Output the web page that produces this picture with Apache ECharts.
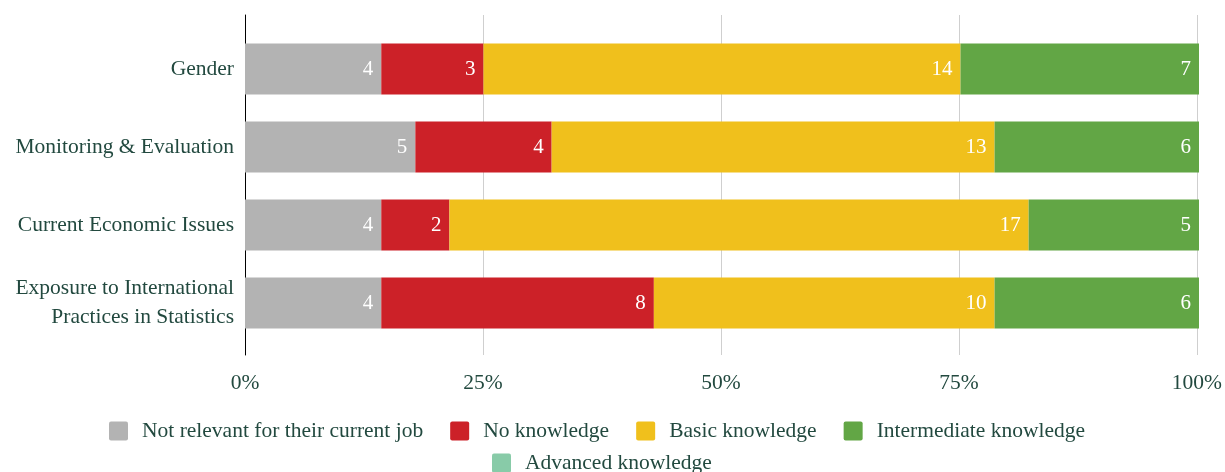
<!DOCTYPE html>
<html>
<head>
<meta charset="utf-8">
<script src="https://cdn.jsdelivr.net/npm/echarts@6/dist/echarts.min.js"></script>
<style>
  html, body { margin: 0; padding: 0; background: #ffffff; }
  #chart { width: 1225px; height: 472px; }
</style>
</head>
<body>
<div id="chart"></div>
<script>
// Skill areas (top to bottom)
const categories = [
  'Gender',
  'Monitoring & Evaluation',
  'Current Economic Issues',
  'Exposure to International\nPractices in Statistics'
];

// Number of respondents per knowledge level
const notRelevant  = [4, 5, 4, 4];
const noKnowledge  = [3, 4, 2, 8];
const basic        = [14, 13, 17, 10];
const intermediate = [7, 6, 5, 6];
const advanced     = [0, 0, 0, 0];

const tickLabels = ['0%', '25%', '50%', '75%', '100%'];

const seriesDefs = [
  { name: 'Not relevant for their current job', values: notRelevant,  color: '#b3b3b3' },
  { name: 'No knowledge',                       values: noKnowledge,  color: '#cc2128' },
  { name: 'Basic knowledge',                    values: basic,        color: '#f0c01c' },
  { name: 'Intermediate knowledge',             values: intermediate, color: '#62a645' },
  { name: 'Advanced knowledge',                 values: advanced,     color: '#88cba8' }
];

const totals = categories.map((_, i) =>
  seriesDefs.reduce((s, d) => s + d.values[i], 0));

const FONT = "'Liberation Serif', 'DejaVu Serif', serif";
const TEXT = '#22493f';
const FS = 21.5;

// square legend swatch with slightly rounded corners
const SWATCH = 'path://M2,0 H17 Q19,0 19,2 V17 Q19,19 17,19 H2 Q0,19 0,17 V2 Q0,0 2,0 Z';

const chart = echarts.init(document.getElementById('chart'), null, { renderer: 'canvas' });

const series = seriesDefs.map((d, si) => ({
  name: d.name,
  type: 'bar',
  stack: 'total',
  xAxisIndex: 1,
  yAxisIndex: 1,
  barWidth: 51,
  barMinHeight: si === 4 ? 1 : 0,
  itemStyle: { color: si === 4 ? '#3f7fb0' : d.color },
  label: {
    show: si !== 4,
    position: 'insideRight',
    distance: 8,
    color: '#ffffff',
    fontFamily: FONT,
    fontSize: 21,
    formatter: p => String(d.values[p.dataIndex])
  },
  emphasis: { disabled: true },
  data: d.values.map((v, i) => v / totals[i] * 100)
}));

const legendText = {
  color: TEXT,
  fontFamily: FONT,
  fontSize: FS,
  padding: [0, 0, 0, 9]
};

chart.setOption({
  animation: false,
  backgroundColor: '#ffffff',
  grid: [
    // frame: percentage gridlines and the category axis line
    { left: 245, right: 26, top: 15, bottom: 117 },
    // bars
    { left: 245, right: 26, top: 30, bottom: 130 }
  ],
  xAxis: [
    {
      gridIndex: 0,
      type: 'value',
      min: 0,
      max: 100,
      interval: 25,
      axisLine: { show: false },
      axisTick: { show: false },
      splitLine: { show: true, lineStyle: { color: '#cfcfcf', width: 1 } },
      axisLabel: {
        margin: 17,
        color: TEXT,
        fontFamily: FONT,
        fontSize: FS,
        formatter: v => tickLabels[Math.round(v / 25)]
      }
    },
    {
      gridIndex: 1,
      type: 'value',
      min: 0,
      max: 100,
      show: false
    }
  ],
  yAxis: [
    {
      gridIndex: 0,
      type: 'value',
      min: 0,
      max: 1,
      axisLine: { show: true, lineStyle: { color: '#000000', width: 1 } },
      axisTick: { show: false },
      axisLabel: { show: false },
      splitLine: { show: false }
    },
    {
      gridIndex: 1,
      type: 'category',
      inverse: true,
      data: categories,
      axisLine: { show: false },
      axisTick: { show: false },
      axisLabel: {
        margin: 11,
        color: TEXT,
        fontFamily: FONT,
        fontSize: FS,
        lineHeight: 29,
        align: 'right'
      }
    }
  ],
  legend: [
    {
      data: seriesDefs.slice(0, 4).map(d => ({ name: d.name, itemStyle: { color: d.color } })),
      left: 104,
      top: 415,
      itemWidth: 19,
      itemHeight: 19,
      itemGap: 27,
      selectedMode: false,
      icon: SWATCH,
      textStyle: legendText
    },
    {
      data: [{ name: seriesDefs[4].name, itemStyle: { color: seriesDefs[4].color } }],
      left: 487,
      top: 447,
      itemWidth: 19,
      itemHeight: 19,
      selectedMode: false,
      icon: SWATCH,
      textStyle: legendText
    }
  ],
  series: series
});
</script>
</body>
</html>
